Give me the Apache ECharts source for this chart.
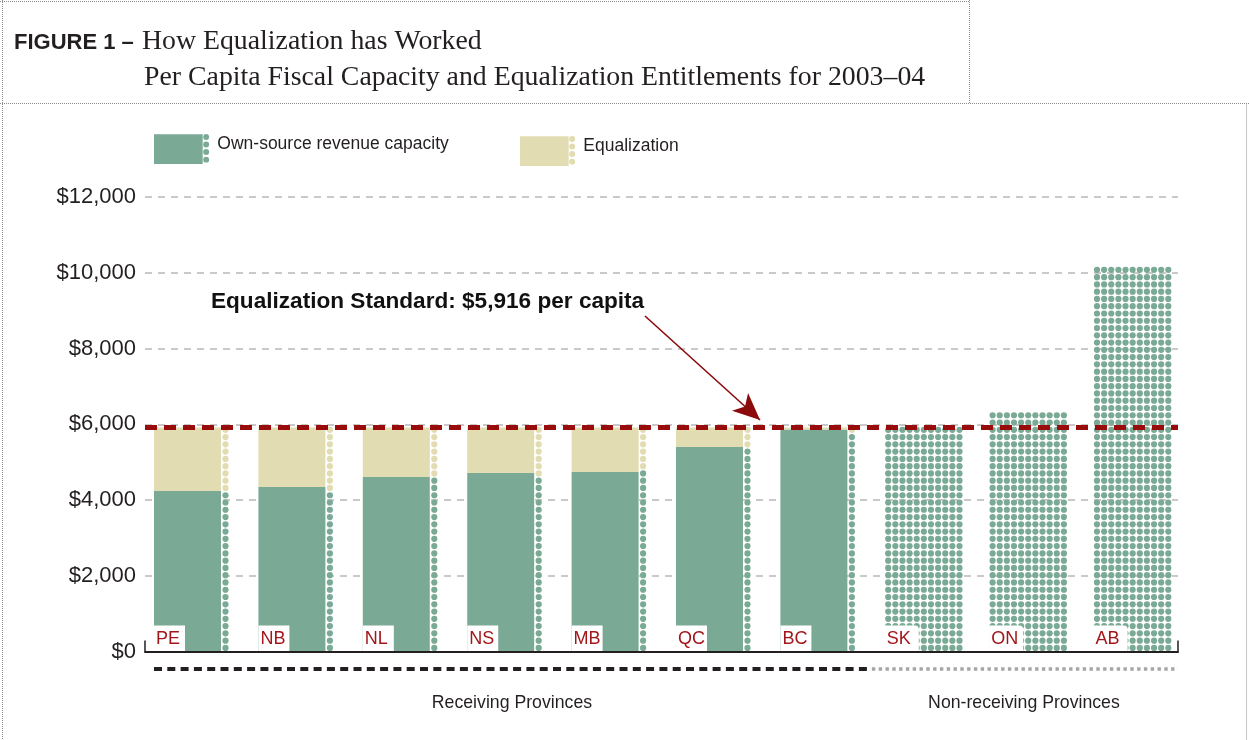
<!DOCTYPE html>
<html>
<head>
<meta charset="utf-8">
<title>How Equalization has Worked</title>
<script src="https://cdn.jsdelivr.net/npm/echarts@6/dist/echarts.min.js"></script>
<style>
  html, body { margin: 0; padding: 0; background: #ffffff; }
  #chart { width: 1249px; height: 740px; }
</style>
</head>
<body>
<div id="chart"></div>
<script>
// ---- data: per capita amounts, 2003-04 ----
const provinces = ['PE', 'NB', 'NL', 'NS', 'MB', 'QC', 'BC', 'SK', 'ON', 'AB'];
const groups = [
  'Receiving Provinces', 'Receiving Provinces', 'Receiving Provinces', 'Receiving Provinces',
  'Receiving Provinces', 'Receiving Provinces', 'Receiving Provinces',
  'Non-receiving Provinces', 'Non-receiving Provinces', 'Non-receiving Provinces'
];
const ownSource = [4240, 4340, 4610, 4710, 4740, 5400, 5860, 5890, 6380, 10120];
const equalization = [1676, 1576, 1306, 1206, 1176, 516, 56, 0, 0, 0];
const standard = 5916;
const yTickStep = 2000;
const yMax = 12000;

// ---- styling ----
const GREEN = '#7aaa96';
const BEIGE = '#e1dcb1';
const RED = '#990c0c';
const LABEL_RED = '#a3161b';
const INK = '#231f20';
const SANS = '"Liberation Sans", Arial, Helvetica, sans-serif';
const SERIF = '"Liberation Serif", "Times New Roman", serif';

// bar geometry inside each category band
const INSET = 9.3;      // gap from band start to the bar
const SOLID_W = 67;     // width of the solid block
const COL_X = 71.5;     // x of the beaded column, from the bar start
const DOT_R = 3.1;
const PITCH_Y = 7.27;
const PITCH_X = 7.13;
const GRID_COLS = 11;

function barLeft(api, i) {
  const c = api.coord([i, 0]);
  const band = api.size([1, 0])[0];
  return c[0] - band / 2 + INSET;
}

// rows of beads counted upward from the baseline; a bead is kept
// while its centre sits at least 1px below the top of the value
function beadRows(baseY, topY) {
  const rows = [];
  for (let cy = baseY - 3.6; cy >= topY + 1; cy -= PITCH_Y) rows.push(cy);
  return rows;
}

function renderOwn(params, api) {
  const i = api.value(0);
  const own = api.value(1);
  const baseY = api.coord([i, 0])[1];
  const top = api.coord([i, own])[1];
  const left = barLeft(api, i);
  const kids = [];
  const receiving = groups[i] === 'Receiving Provinces';
  if (receiving) {
    kids.push({ type: 'rect', shape: { x: left, y: top, width: SOLID_W, height: baseY - top }, style: { fill: GREEN } });
    beadRows(baseY, top).forEach(cy => {
      kids.push({ type: 'circle', shape: { cx: left + COL_X, cy: cy, r: DOT_R }, style: { fill: GREEN } });
    });
  } else {
    beadRows(baseY, top).forEach(cy => {
      for (let c = 0; c < GRID_COLS; c++) {
        kids.push({ type: 'circle', shape: { cx: left + 3.4 + c * PITCH_X, cy: cy, r: DOT_R }, style: { fill: GREEN } });
      }
    });
  }
  // province tag in the lower-left corner
  const boxW = receiving ? 31 : 34;
  kids.push({ type: 'rect', shape: { x: left, y: baseY - 26, width: boxW, height: 26, r: receiving ? 0 : [0, 4, 0, 0] }, style: { fill: '#ffffff' } });
  kids.push({
    type: 'text',
    style: { text: provinces[i], x: left + 2, y: baseY - 12, fill: LABEL_RED, fontSize: 18, fontFamily: SANS, align: 'left', verticalAlign: 'middle' }
  });
  return { type: 'group', children: kids };
}

function renderEq(params, api) {
  const i = api.value(0);
  const own = api.value(1);
  const total = api.value(2);
  if (!(total > own)) return null;
  const baseY = api.coord([i, 0])[1];
  const ownTop = api.coord([i, own])[1];
  const totTop = api.coord([i, total])[1];
  const left = barLeft(api, i);
  const kids = [{ type: 'rect', shape: { x: left, y: totTop, width: SOLID_W, height: ownTop - totTop }, style: { fill: BEIGE } }];
  beadRows(baseY, totTop).forEach(cy => {
    if (cy < ownTop + 1) {
      kids.push({ type: 'circle', shape: { cx: left + COL_X, cy: cy, r: DOT_R }, style: { fill: BEIGE } });
    }
  });
  return { type: 'group', children: kids };
}

// legend swatch: block plus a column of four beads
const SWATCH = 'path://M0,0H49V30H0Z' +
  ' M49.5,2.8a3,3 0 1,0 6,0a3,3 0 1,0 -6,0Z' +
  ' M49.5,10.4a3,3 0 1,0 6,0a3,3 0 1,0 -6,0Z' +
  ' M49.5,18a3,3 0 1,0 6,0a3,3 0 1,0 -6,0Z' +
  ' M49.5,25.6a3,3 0 1,0 6,0a3,3 0 1,0 -6,0Z';

// the legend name sits a little above the swatch centre
const legendText = {
  color: INK,
  fontSize: 17.5,
  fontFamily: SANS,
  rich: {
    t: { color: INK, fontSize: 17.5, fontFamily: SANS, lineHeight: 20, padding: [0, 0, 0, 3] },
    s: { height: 9, lineHeight: 9 }
  }
};
const legendFormatter = name => '{t|' + name + '}\n{s|}';

const chart = echarts.init(document.getElementById('chart'), null, { renderer: 'canvas' });

const option = {
  animation: false,
  backgroundColor: '#ffffff',
  legend: [
    { data: ['Own-source revenue capacity'], left: 154, top: 134, padding: 0, itemWidth: 55.5, itemHeight: 30, icon: SWATCH, selectedMode: false, textStyle: legendText, formatter: legendFormatter },
    { data: ['Equalization'], left: 520, top: 136, padding: 0, itemWidth: 55.5, itemHeight: 30, icon: SWATCH, selectedMode: false, textStyle: legendText, formatter: legendFormatter }
  ],
  grid: [
    { left: 144.7, top: 197, width: 1044, height: 454.5 },
    { left: 145, top: 197, width: 1033, height: 454.5 }
  ],
  xAxis: [
    { type: 'category', gridIndex: 0, data: provinces, show: false },
    {
      type: 'value', gridIndex: 1, min: 0, max: 1, interval: 1, z: 4,
      axisLine: { show: true, lineStyle: { color: INK, width: 2 } },
      axisTick: { show: true, inside: true, length: 11, lineStyle: { color: INK, width: 1.5 } },
      axisLabel: { show: false },
      splitLine: { show: false }
    }
  ],
  yAxis: [
    { type: 'value', gridIndex: 0, min: 0, max: yMax, interval: yTickStep, show: false },
    {
      type: 'value', gridIndex: 1, min: 0, max: yMax, interval: yTickStep,
      axisLine: { show: false },
      axisTick: { show: false },
      axisLabel: {
        color: INK, fontSize: 22, fontFamily: SANS, margin: 9,
        formatter: v => '$' + v.toLocaleString('en-US')
      },
      splitLine: { lineStyle: { color: '#c9c9c9', width: 2, type: [7, 6] } }
    }
  ],
  series: [
    {
      name: 'Own-source revenue capacity',
      type: 'custom',
      xAxisIndex: 0, yAxisIndex: 0,
      itemStyle: { color: GREEN },
      renderItem: renderOwn,
      encode: { x: 0, y: 1 },
      data: provinces.map((p, i) => [i, ownSource[i]]),
      z: 2
    },
    {
      name: 'Equalization',
      type: 'custom',
      xAxisIndex: 0, yAxisIndex: 0,
      itemStyle: { color: BEIGE },
      renderItem: renderEq,
      encode: { x: 0, y: [1, 2] },
      data: provinces.map((p, i) => [i, ownSource[i], ownSource[i] + equalization[i]]),
      z: 2
    },
    {
      name: 'Equalization Standard',
      type: 'line',
      xAxisIndex: 1, yAxisIndex: 1,
      data: [[0, standard], [1, standard]],
      symbol: 'none',
      silent: true,
      z: 5,
      lineStyle: { color: RED, width: 5, type: [12, 7] },
      markLine: {
        silent: true,
        symbol: ['none', 'arrow'],
        symbolSize: [18, 27],
        label: { show: false },
        lineStyle: { color: '#8b0a0a', width: 1.6, type: 'solid' },
        data: [[{ coord: [0.484, 8858] }, { coord: [0.5954, 6112] }]]
      }
    }
  ]
};

chart.setOption(option);

// ---- frame, heading, annotation and province-group brackets ----
const px = i => chart.convertToPixel({ xAxisIndex: 0 }, i);
const band = px(1) - px(0);
const leftOf = i => px(i) - band / 2 + INSET;
const firstNonRecv = groups.indexOf('Non-receiving Provinces');
const lastRecv = firstNonRecv - 1;
const startX = leftOf(0);
const splitX = (leftOf(lastRecv) + COL_X + DOT_R + leftOf(firstNonRecv)) / 2;
const endX = chart.convertToPixel({ xAxisIndex: 1 }, 1);
const bracketY = 669;

const dotted = { stroke: '#8c8c8c', lineWidth: 1, lineDash: [1, 1] };

chart.setOption({
  graphic: [
    // outer frame
    { type: 'line', silent: true, shape: { x1: 0, y1: 1.5, x2: 969.5, y2: 1.5 }, style: dotted },
    { type: 'line', silent: true, shape: { x1: 969.5, y1: 0, x2: 969.5, y2: 103.5 }, style: dotted },
    { type: 'line', silent: true, shape: { x1: 2.5, y1: 0, x2: 2.5, y2: 740 }, style: dotted },
    { type: 'line', silent: true, shape: { x1: 0, y1: 103.5, x2: 1249, y2: 103.5 }, style: dotted },
    { type: 'line', silent: true, shape: { x1: 1246.5, y1: 103.5, x2: 1246.5, y2: 740 }, style: dotted },
    // heading
    { type: 'text', silent: true, style: { text: 'FIGURE 1 \u2013', x: 14, y: 43, fill: INK, fontSize: 22, fontWeight: 'bold', fontFamily: SANS, align: 'left', verticalAlign: 'middle' } },
    { type: 'text', silent: true, style: { text: 'How Equalization has Worked', x: 142, y: 42, fill: INK, fontSize: 27.8, fontFamily: SERIF, align: 'left', verticalAlign: 'middle' } },
    { type: 'text', silent: true, style: { text: 'Per Capita Fiscal Capacity and Equalization Entitlements for 2003\u201304', x: 144, y: 78, fill: INK, fontSize: 27.8, fontFamily: SERIF, align: 'left', verticalAlign: 'middle' } },
    // standard annotation
    { type: 'text', silent: true, z: 10, style: { text: 'Equalization Standard: $' + standard.toLocaleString('en-US') + ' per capita', x: 211, y: 302, fill: '#111111', fontSize: 22.6, fontWeight: 'bold', fontFamily: SANS, align: 'left', verticalAlign: 'middle' } },
    // group brackets under the axis
    { type: 'line', silent: true, shape: { x1: startX, y1: bracketY, x2: splitX, y2: bracketY }, style: { stroke: INK, lineWidth: 4, lineDash: [8, 5.3] } },
    { type: 'line', silent: true, shape: { x1: splitX + 2, y1: bracketY, x2: endX, y2: bracketY }, style: { stroke: '#a6a6a6', lineWidth: 3.5, lineDash: [3.4, 3.4] } },
    { type: 'text', silent: true, style: { text: groups[0], x: (startX + splitX) / 2, y: 703, fill: INK, fontSize: 17.7, fontFamily: SANS, align: 'center', verticalAlign: 'middle' } },
    { type: 'text', silent: true, style: { text: groups[firstNonRecv], x: (splitX + endX) / 2, y: 703, fill: INK, fontSize: 17.7, fontFamily: SANS, align: 'center', verticalAlign: 'middle' } }
  ]
});
</script>
</body>
</html>
